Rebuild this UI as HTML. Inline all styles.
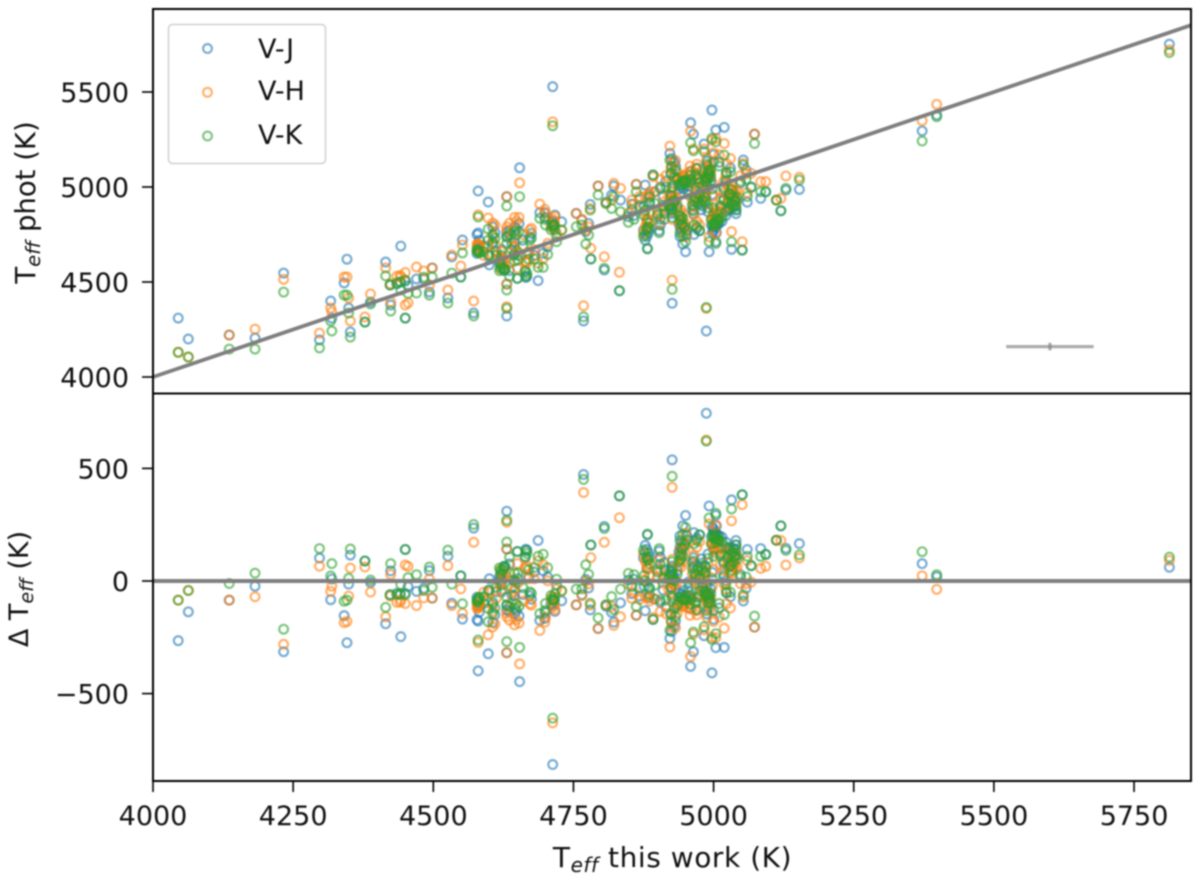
<!DOCTYPE html>
<html lang="en">
<head>
<meta charset="utf-8">
<title>Teff comparison</title>
<style>
  html, body { margin: 0; padding: 0; background: #fff; }
  #chart { display: block; width: 1200px; height: 878px; filter: blur(0.7px); }
  text { font-family: "DejaVu Sans", "Liberation Sans", sans-serif; fill: #111; }
</style>
</head>
<body>
<svg id="chart" xmlns="http://www.w3.org/2000/svg" width="1200" height="878" viewBox="0 0 1200 878">
  <rect x="0" y="0" width="1200" height="878" fill="#fff"/>
  <g id="marks-top"></g>
  <g id="marks-bottom"></g>
  <g id="ref-lines"></g>
  <g id="ticks"></g>
  <g id="spines">
    <rect x="153" y="9" width="1038" height="384.5" fill="none" stroke="#000" stroke-width="2"/>
    <rect x="153" y="393.5" width="1038" height="387.5" fill="none" stroke="#000" stroke-width="2"/>
  </g>
  <g>
    <rect x="168.5" y="24.5" width="157" height="139" rx="4" ry="4" fill="#fff" fill-opacity="0.8" stroke="#d0d0d0" stroke-width="1.5"/>
    <g>
      <circle cx="207.5" cy="48.5" r="4.4" fill="none" stroke="#1f77b4" stroke-opacity="0.6" stroke-width="2.2"/>
      <text x="258" y="58" font-size="27">V-J</text>
    </g>
    <g>
      <circle cx="207.5" cy="92.3" r="4.4" fill="none" stroke="#ff7f0e" stroke-opacity="0.6" stroke-width="2.2"/>
      <text x="258" y="100" font-size="27">V-H</text>
    </g>
    <g>
      <circle cx="207.5" cy="136" r="4.4" fill="none" stroke="#2ca02c" stroke-opacity="0.6" stroke-width="2.2"/>
      <text x="258" y="144" font-size="27">V-K</text>
    </g>
  </g>
  <text x="672.5" y="867" font-size="28" letter-spacing="0.55" text-anchor="middle">T<tspan font-size="20" font-style="italic" dy="5">eff</tspan><tspan dy="-5"> this work (K)</tspan></text>
  <text transform="translate(35 202.5) rotate(-90)" font-size="27.5" text-anchor="middle">T<tspan font-size="19.5" font-style="italic" dy="5">eff</tspan><tspan dy="-5"> phot (K)</tspan></text>
  <text transform="translate(28 589) rotate(-90)" font-size="27" text-anchor="middle">Δ T<tspan font-size="19" font-style="italic" dy="5">eff</tspan><tspan dy="-5"> (K)</tspan></text>
</svg>
<script>
const xTicks = [4000, 4250, 4500, 4750, 5000, 5250, 5500, 5750];
const yTicksTop = [4000, 4500, 5000, 5500];
const yTicksBottom = [-500, 0, 500];
const xDomain = [4000, 5851];
const errBarCenter = [5600, 4160];
const errBarSize = [78, 20];

const teff = [
4045,4063,4136,4182,4233,4297,4317,4319,4346,4341,
4349,4352,4378,4388,4415,4424,4423,4442,4435,4441,
4450,4455,4450,4470,4483,4498,4493,4526,4533,4549,
4552,4572,4580,4598,4580,4578,4582,4598,4600,4590,
4631,4631,4631,4654,4653,4631,4622,4628,4650,4665,
4687,4696,4704,4690,4699,4717,4714,4729,4720,4675,
4672,4755,4765,4780,4777,4772,4781,4805,4768,4832,
4713,4794,4808,4822,4818,4834,4862,4878,4854,4848,
4875,4882,4881,4876,4892,4903,4895,4885,4868,4858,
4620,4640,4645,4660,4612,4606,4618,4636,4670,4644,
4922,4926,4987,4950,4959,4964,4983,4997,5004,5019,
5023,4992,5004,5032,5051,5053,5073,5067,5084,5093,
5112,5120,5129,5153,5372,5398,5813,4944,4948,4946,
4950,4942,4952,4938,4956,4935,4960,4925,4924,4926,
4925,4928,4924,4926,4940,4945,4943,4948,4938,4952,
4942,4990,4992,4985,4994,4988,4972,4975,4968,4980,
4984,4978,4986,4990,5003,5007,5000,5010,5005,4996,
5015,5035,5038,5030,5042,5033,5025,5040,5028,5022,
5012,5000,5018,4970,4965,4975,4958,4970,5010,5000,
5030,5048,5058,4915,4932,4998,4910,4905,4930,5060,
4922,4920,4926,4930,4935,4965,4968,4972,4962,4975,
5000,5002,5005,4998,5008,5035,5038,5032,5028,5040,
4988,4992,4985,4995,4990,4955,4980,5018,5022,4886,
4881,4884,4878,4886,4900,4905,4912,4964,4940,4945,
4580,4582,4578,4624,4626,4620,4713,4716,4710,4651,
4631,4636,4667,4664,4606,4610,4645,4648,4700,4680
];
const photJ = [
4310,4200,4221,4205,4547,4195,4400,4310,4620,4495,
4363,4237,4289,4395,4605,4379,4484,4689,4490,4500,
4505,4480,4310,4516,4516,4574,4447,4416,4632,4526,
4721,4337,4979,4921,4758,4750,4720,4640,4590,4690,
4949,4321,4489,5101,4808,4740,4670,4566,4519,4524,
4507,4651,4686,4865,4865,4852,4800,4817,4738,4756,
4738,4861,4826,4908,4808,4765,4621,4563,4295,4454,
5528,5005,4920,5005,4957,4931,5014,5010,4910,4844,
4773,4677,4826,4900,5063,4770,4975,4960,4935,4850,
4620,4700,4650,4720,4660,4710,4600,4560,4650,4710,
5177,4388,4242,4659,5338,5278,5226,5405,5300,5314,
5075,4659,4712,4672,4668,5142,5278,5000,4940,4975,
4931,4875,4984,4987,5295,5379,5752,5010,5020,4990,
5030,5000,5020,4990,5005,5050,5035,5150,5075,4990,
4880,4900,4950,4860,4790,4800,4770,4780,4810,4750,
4820,5110,5050,5030,5080,5135,5040,5000,5060,4900,
4915,4880,4950,4870,4790,4800,4780,4810,4760,4800,
4820,4920,4900,4950,4930,4970,4880,4880,4880,4850,
4890,4860,4940,4780,4750,4770,5080,5100,5130,5170,
5100,5020,5090,5030,5110,4960,4950,5000,5130,4920,
4880,4900,4870,4920,4890,4900,4940,4910,4880,4950,
4770,4790,4820,4760,4830,4890,4930,4900,4950,4860,
5010,5060,5000,5030,5045,4960,4990,4990,5020,4920,
4740,4760,4720,4780,4850,4800,4830,4860,4740,4700,
4690,4680,4650,4590,4560,4610,4820,4800,4810,4640,
4760,4770,4530,4560,4790,4760,4790,4780,4840,4640
];
const photH = [
4130,4105,4221,4252,4514,4231,4363,4342,4526,4526,
4416,4295,4316,4437,4574,4395,4490,4526,4530,4535,
4550,4390,4379,4579,4558,4574,4484,4458,4642,4584,
4695,4400,4853,4837,4695,4700,4690,4690,4650,4640,
4950,4370,4489,5022,4840,4773,4660,4598,4572,4607,
4598,4624,4703,4910,4882,4844,4785,4773,4756,4782,
4773,4861,4830,4887,4790,4773,4677,4633,4375,4551,
5343,5005,4914,5019,4931,4993,5014,4949,4931,4861,
4756,4791,4826,4870,5054,4808,4975,4957,4950,4910,
4570,4730,4680,4750,4690,4740,4630,4600,4660,4690,
5215,4510,4361,4738,5294,5200,5200,5247,5256,5229,
5124,4738,4756,4765,4712,5124,5278,5072,5028,5028,
4931,4940,5058,5051,5349,5435,5721,5040,5055,5060,
5045,5050,5070,5040,5035,5080,5085,5130,5100,5020,
4920,4940,4975,4830,4850,4860,4830,4810,4870,4790,
4880,5090,5100,5060,5120,5150,5070,5040,5100,4960,
4950,4930,4980,4910,4840,4830,4850,4860,4820,4830,
4870,4970,4960,4990,4980,5000,4950,4920,4900,4900,
4940,4950,4970,4820,4850,4800,5110,5120,5170,5180,
5150,5060,5070,5060,5140,5020,4920,5040,5060,4970,
4930,4960,4920,4950,4940,4960,4980,4950,4930,4990,
4840,4860,4880,4830,4870,4950,4980,4940,4990,4930,
5060,5090,5050,5070,5070,5020,5030,5030,5060,4975,
4810,4830,4790,4860,4880,4860,4890,4900,4800,4780,
4700,4690,4680,4610,4600,4630,4830,4820,4790,4660,
4790,4810,4600,4610,4810,4800,4840,4820,4860,4670
];
const photK = [
4130,4105,4147,4147,4447,4153,4295,4242,4431,4431,
4337,4210,4289,4384,4532,4347,4484,4458,4495,4500,
4510,4440,4310,4442,4525,4526,4431,4389,4547,4526,
4653,4321,4842,4779,4663,4670,4655,4720,4640,4660,
4900,4361,4458,4949,4765,4703,4640,4566,4519,4531,
4577,4577,4645,4835,4830,4773,4800,4773,4712,4730,
4721,4791,4800,4879,4747,4700,4621,4572,4317,4454,
5322,4958,4914,4949,4887,4870,4975,4878,4879,4814,
4738,4674,4782,4852,5063,4759,4914,4914,4900,4830,
4575,4670,4610,4690,4640,4700,4560,4530,4620,4640,
5142,4461,4366,4712,5233,5191,5186,5256,5238,5168,
5075,4712,4703,4712,4668,5115,5229,4998,4975,4975,
4931,4875,4993,5037,5242,5370,5707,5028,5030,5022,
5033,5015,5035,5010,5020,5040,5040,5107,5070,5001,
4896,4920,4955,4840,4826,4835,4800,4790,4850,4770,
4845,5085,5072,5050,5090,5120,5045,5020,5065,4930,
4945,4910,4925,4890,4815,4820,4810,4830,4800,4830,
4840,4950,4930,4960,4945,4985,4920,4900,4890,4870,
4900,4890,4930,4790,4800,4770,5060,5095,5110,5130,
5080,5030,5040,5000,5090,4990,4900,4990,5050,4950,
4895,4910,4885,4930,4905,4930,4945,4925,4905,4960,
4800,4810,4835,4795,4825,4905,4925,4912,4965,4880,
5045,5065,5030,5050,5055,4985,5005,5000,5035,4947,
4774,4790,4750,4810,4860,4830,4860,4875,4760,4740,
4668,4655,4660,4574,4565,4590,4790,4800,4775,4616,
4737,4750,4545,4555,4750,4730,4765,4750,4800,4620
];

const svgNS = 'http://www.w3.org/2000/svg';
function xScale(v) { return 153 + (v - 4000) * 0.5606; }
function yTop(v) { return 377 - (v - 4000) * 0.19; }
function yBottom(v) { return 581 - v * 0.2252; }

function seriesPoints(parent, phot, color, seriesName, panel) {
  const g = document.createElementNS(svgNS, 'g');
  
  
  parent.appendChild(g);
  for (let i = 0; i < teff.length; i++) {
    const c = document.createElementNS(svgNS, 'circle');
    
    
    c.setAttribute('cx', xScale(teff[i]).toFixed(2));
    const y = panel === 'top' ? yTop(phot[i]) : yBottom(teff[i] - phot[i]);
    c.setAttribute('cy', y.toFixed(2));
    c.setAttribute('r', '4.4');
    c.setAttribute('fill', 'none');
    c.setAttribute('stroke', color);
    c.setAttribute('stroke-opacity', '0.6');
    c.setAttribute('stroke-width', '2.2');
    g.appendChild(c);
  }
}

const topG = document.getElementById('marks-top');
const botG = document.getElementById('marks-bottom');
seriesPoints(topG, photJ, '#1f77b4', 'v-j', 'top');
seriesPoints(topG, photH, '#ff7f0e', 'v-h', 'top');
seriesPoints(topG, photK, '#2ca02c', 'v-k', 'top');
seriesPoints(botG, photJ, '#1f77b4', 'v-j', 'bottom');
seriesPoints(botG, photH, '#ff7f0e', 'v-h', 'bottom');
seriesPoints(botG, photK, '#2ca02c', 'v-k', 'bottom');

function line(parent, x1, y1, x2, y2, stroke, width, name, opacity) {
  const l = document.createElementNS(svgNS, 'line');
  
  
  l.setAttribute('x1', x1);
  l.setAttribute('y1', y1);
  l.setAttribute('x2', x2);
  l.setAttribute('y2', y2);
  l.setAttribute('stroke', stroke);
  l.setAttribute('stroke-width', width);
  if (opacity) l.setAttribute('stroke-opacity', opacity);
  parent.appendChild(l);
}

const refG = document.getElementById('ref-lines');
line(refG, xScale(xDomain[0]), yTop(xDomain[0]), xScale(xDomain[1]), yTop(xDomain[1]), '#7f7f7f', 3.8, 'one-to-one-line');
line(refG, xScale(xDomain[0]), yBottom(0), xScale(xDomain[1]), yBottom(0), '#7f7f7f', 4, 'zero-line');
line(refG, xScale(errBarCenter[0] - errBarSize[0]), yTop(errBarCenter[1]), xScale(errBarCenter[0] + errBarSize[0]), yTop(errBarCenter[1]), '#808080', 3.2, 'typical-error-bar-x', '0.65');
line(refG, xScale(errBarCenter[0]), yTop(errBarCenter[1] - errBarSize[1]), xScale(errBarCenter[0]), yTop(errBarCenter[1] + errBarSize[1]), '#808080', 3.2, 'typical-error-bar-y', '0.65');

function label(parent, x, y, str, anchor, name) {
  const t = document.createElementNS(svgNS, 'text');
  
  
  t.setAttribute('x', x);
  t.setAttribute('y', y);
  t.setAttribute('font-size', '27');
  t.setAttribute('text-anchor', anchor);
  t.textContent = str;
  parent.appendChild(t);
}

const tickG = document.getElementById('ticks');
xTicks.forEach(function (v) {
  line(tickG, xScale(v), 781, xScale(v), 792, '#000', 1.6, 'x-tick');
  label(tickG, xScale(v), 825, String(v), 'middle', 'x-tick-label');
});
yTicksTop.forEach(function (v) {
  line(tickG, 142, yTop(v), 153, yTop(v), '#000', 1.6, 'top-y-tick');
  label(tickG, 129, yTop(v) + 10, String(v), 'end', 'top-y-tick-label');
});
yTicksBottom.forEach(function (v) {
  line(tickG, 142, yBottom(v), 153, yBottom(v), '#000', 1.6, 'bottom-y-tick');
  label(tickG, 129, yBottom(v) + 10, String(v).replace('-', '\u2212'), 'end', 'bottom-y-tick-label');
});
</script>
</body>
</html>
